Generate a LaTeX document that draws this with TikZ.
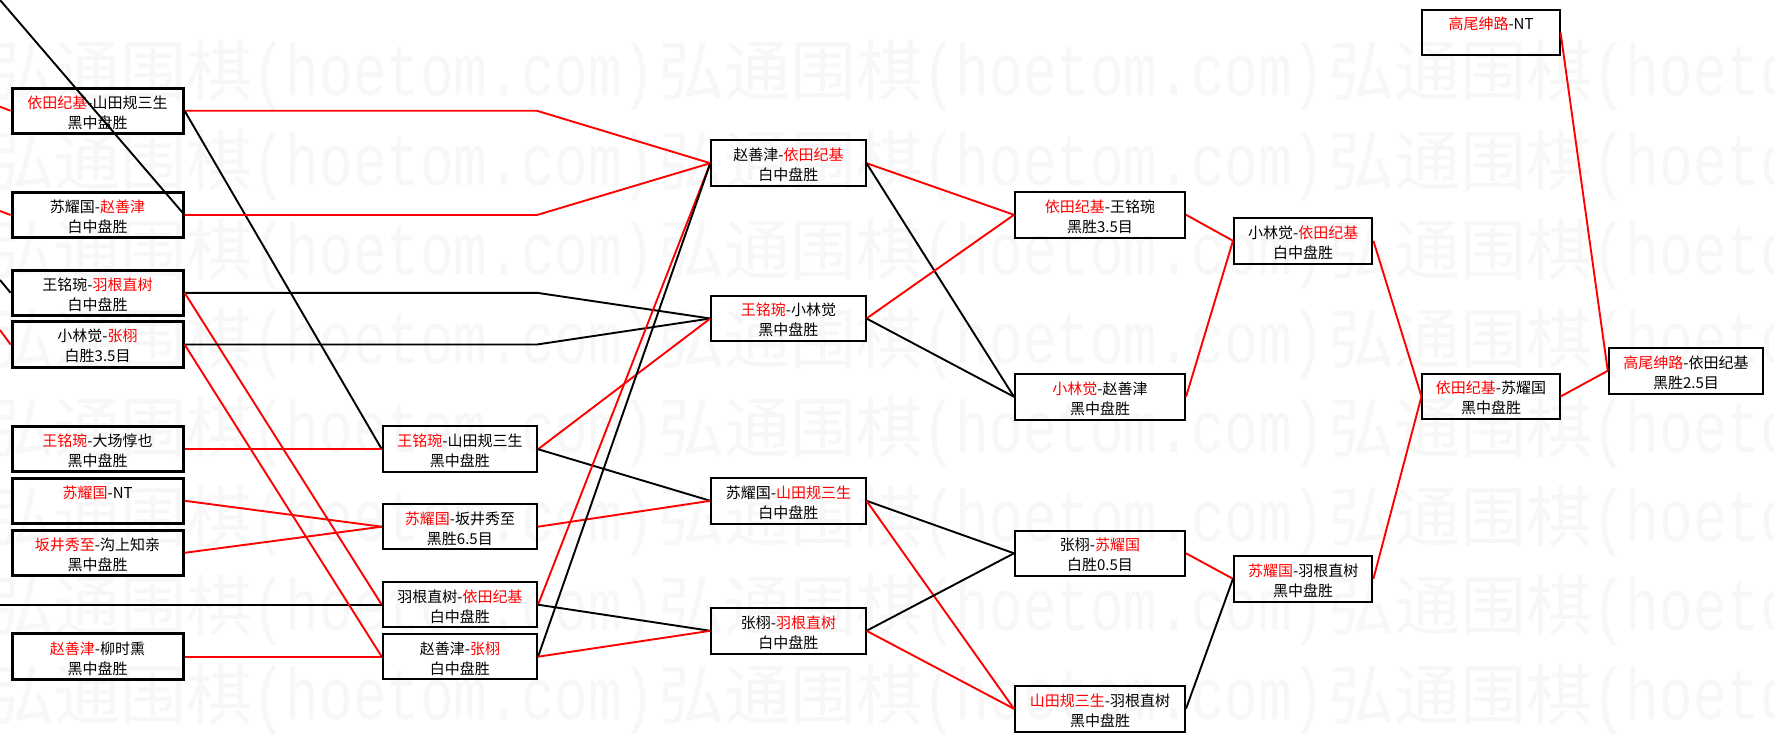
\documentclass[tikz,border=0pt]{standalone}
\usepackage{fontspec}
\usepackage{graphicx}
\setmainfont{Noto Sans CJK SC}
\newfontfamily\wmlat{Liberation Mono}
\definecolor{wmc}{gray}{0.97}
\newcommand{\rn}[1]{\textcolor{red}{#1}}
\tikzset{
  box/.style={draw=black, line width=2pt, minimum height=45.5pt, inner sep=0pt},
  boxa/.style={box, line width=3pt},
  lbl/.style={inner sep=0pt, anchor=base, font=\fontsize{15}{18}\selectfont},
  wr/.style={draw=red, line width=1.9pt, line join=round},
  wb/.style={draw=black, line width=1.9pt, line join=round},
  wm/.style={inner sep=0pt, anchor=base west, text=wmc}
}
% [style]{name}{cx}{cy}{width}{line1}{line2}
\newcommand{\gamebox}[7][box]{%
  \node[#1, minimum width=#5pt] (#2) at (#3,#4) {};
  \node[lbl] (#2a) at ([yshift=2.6pt]#2.center) {#6};
  \node[lbl] (#2b) at ([yshift=-17.4pt]#2.center) {#7};
}
\begin{document}
\begin{tikzpicture}[x=1pt,y=-1pt]
\clip (0,0) rectangle (1774,741);
\fill[white] (0,0) rectangle (1774,741);
% watermark
\foreach \r in {0,...,7}{
  \foreach \c in {0,1,2}{
    \node[wm] (wm\r\c) at ({-12+670*\c},{96+89*\r}) {\fontsize{66}{66}\selectfont 弘通围棋\scalebox{1}[1.3]{\wmlat\fontsize{56}{56}\selectfont (hoetom.com)}};
  }
}
% column 1
\gamebox[boxa]{a1}{97.6}{110.8}{171}{\rn{依田纪基}-山田规三生}{黑中盘胜}
\gamebox[boxa]{a2}{97.6}{215}{171}{苏耀国-\rn{赵善津}}{白中盘胜}
\gamebox[boxa]{a3}{97.6}{292.8}{171}{王铭琬-\rn{羽根直树}}{白中盘胜}
\gamebox[boxa]{a4}{97.6}{344.5}{171}{小林觉-\rn{张栩}}{白胜3.5目}
\gamebox[boxa]{a5}{97.6}{449.2}{171}{\rn{王铭琬}-大场惇也}{黑中盘胜}
\gamebox[boxa]{a6}{97.6}{500.8}{171}{\rn{苏耀国}-NT}{}
\gamebox[boxa]{a7}{97.6}{552.8}{171}{\rn{坂井秀至}-沟上知亲}{黑中盘胜}
\gamebox[boxa]{a8}{97.6}{656.7}{171}{\rn{赵善津}-柳时熏}{黑中盘胜}
% column 2
\gamebox{b1}{459.9}{449.2}{154.3}{\rn{王铭琬}-山田规三生}{黑中盘胜}
\gamebox{b2}{459.9}{526.7}{154.3}{\rn{苏耀国}-坂井秀至}{黑胜6.5目}
\gamebox{b3}{459.9}{604.7}{154.3}{羽根直树-\rn{依田纪基}}{白中盘胜}
\gamebox{b4}{459.9}{656.7}{154.3}{赵善津-\rn{张栩}}{白中盘胜}
% column 3
\gamebox{c1}{788.4}{163.2}{154.2}{赵善津-\rn{依田纪基}}{白中盘胜}
\gamebox{c2}{788.4}{318.5}{154.2}{\rn{王铭琬}-小林觉}{黑中盘胜}
\gamebox{c3}{788.4}{500.8}{154.2}{苏耀国-\rn{山田规三生}}{白中盘胜}
\gamebox{c4}{788.4}{630.8}{154.2}{张栩-\rn{羽根直树}}{白中盘胜}
% column 4
\gamebox{d1}{1100}{214.8}{170}{\rn{依田纪基}-王铭琬}{黑胜3.5目}
\gamebox{d2}{1100}{396.8}{170}{\rn{小林觉}-赵善津}{黑中盘胜}
\gamebox{d3}{1100}{553.3}{170}{张栩-\rn{苏耀国}}{白胜0.5目}
\gamebox{d4}{1100}{708.8}{170}{\rn{山田规三生}-羽根直树}{黑中盘胜}
% column 5
\gamebox{e1}{1303.2}{240.8}{138.4}{小林觉-\rn{依田纪基}}{白中盘胜}
\gamebox{e2}{1303.2}{578.8}{138.4}{\rn{苏耀国}-羽根直树}{黑中盘胜}
% column 6 / 7
\gamebox{f1}{1491}{396.5}{137.1}{\rn{依田纪基}-苏耀国}{黑中盘胜}
\gamebox{h1}{1491}{32.5}{137.1}{\rn{高尾绅路}-NT}{}
\gamebox{g1}{1686}{370.8}{154.5}{\rn{高尾绅路}-依田纪基}{黑胜2.5目}
% free ends
\coordinate (bx) at (537,0);
\coordinate (l0) at (0,0);
\coordinate (l1) at (0,106.7);
\coordinate (l2) at (0,211);
\coordinate (l3) at (0,280);
\coordinate (l4) at (0,330);
\coordinate (l5) at (0,604.7);
% incoming from the left edge
\draw[wr] (l1) -- (a1.west);
\draw[wr] (l2) -- (a2.west);
\draw[wb] (l3) -- (a3.west);
\draw[wr] (l4) -- (a4.west);
\draw[wb] (l5) -- (b3.west);
\draw[wb] (l0) -- (a2.east);
% column 1 out
\draw[wr] (a1.east) -- (a1.east -| bx) -- (c1.west);
\draw[wb] (a1.east) -- (b1.west);
\draw[wr] (a2.east) -- (a2.east -| bx) -- (c1.west);
\draw[wb] (a3.east) -- (a3.east -| bx) -- (c2.west);
\draw[wr] (a3.east) -- (b3.west);
\draw[wb] (a4.east) -- (a4.east -| bx) -- (c2.west);
\draw[wr] (a4.east) -- (b4.west);
\draw[wr] (a5.east) -- (b1.west);
\draw[wr] (a6.east) -- (b2.west);
\draw[wr] (a7.east) -- (b2.west);
\draw[wr] (a8.east) -- (b4.west);
% column 2 out
\draw[wr] (b1.east) -- (c2.west);
\draw[wb] (b1.east) -- (c3.west);
\draw[wr] (b2.east) -- (c3.west);
\draw[wr] (b3.east) -- (c1.west);
\draw[wb] (b3.east) -- (c4.west);
\draw[wb] (b4.east) -- (c1.west);
\draw[wr] (b4.east) -- (c4.west);
% column 3 out
\draw[wr] (c1.east) -- (d1.west);
\draw[wb] (c1.east) -- (d2.west);
\draw[wr] (c2.east) -- (d1.west);
\draw[wb] (c2.east) -- (d2.west);
\draw[wb] (c3.east) -- (d3.west);
\draw[wr] (c3.east) -- (d4.west);
\draw[wb] (c4.east) -- (d3.west);
\draw[wr] (c4.east) -- (d4.west);
% column 4 out
\draw[wr] (d1.east) -- (e1.west);
\draw[wr] (d2.east) -- (e1.west);
\draw[wr] (d3.east) -- (e2.west);
\draw[wb] (d4.east) -- (e2.west);
% later rounds
\draw[wr] (e1.east) -- (f1.west);
\draw[wr] (e2.east) -- (f1.west);
\draw[wr] (f1.east) -- (g1.west);
\draw[wr] (h1.east) -- (g1.west);
\end{tikzpicture}
\end{document}
